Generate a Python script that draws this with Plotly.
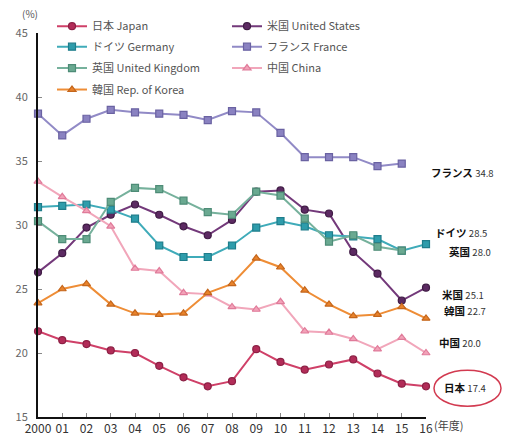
import plotly.graph_objects as go

years = ["2000", "01", "02", "03", "04", "05", "06", "07", "08", "09", "10", "11", "12", "13", "14", "15", "16"]
xs = list(range(len(years)))

japan = [21.7, 21.0, 20.7, 20.2, 20.0, 19.0, 18.1, 17.4, 17.8, 20.3, 19.3, 18.7, 19.1, 19.5, 18.4, 17.6, 17.4]
usa = [26.3, 27.8, 29.8, 30.8, 31.6, 30.8, 29.9, 29.2, 30.4, 32.6, 32.7, 31.2, 30.9, 27.9, 26.2, 24.1, 25.1]
germany = [31.4, 31.5, 31.6, 31.2, 30.5, 28.4, 27.5, 27.5, 28.4, 29.8, 30.3, 29.9, 29.2, 29.1, 28.9, 28.0, 28.5]
france = [38.7, 37.0, 38.3, 39.0, 38.8, 38.7, 38.6, 38.2, 38.9, 38.8, 37.2, 35.3, 35.3, 35.3, 34.6, 34.8]
uk = [30.3, 28.9, 28.9, 31.8, 32.9, 32.8, 31.9, 31.0, 30.8, 32.6, 32.3, 30.5, 28.7, 29.2, 28.3, 28.0]
china = [33.4, 32.2, 31.1, 29.9, 26.6, 26.4, 24.7, 24.6, 23.6, 23.4, 24.0, 21.7, 21.6, 21.1, 20.3, 21.2, 20.0]
korea = [23.9, 25.0, 25.4, 23.8, 23.1, 23.0, 23.1, 24.7, 25.4, 27.4, 26.7, 24.9, 23.8, 22.9, 23.0, 23.6, 22.7]

# name, values, line colour, marker fill, marker outline, symbol, legend row
series = [
    ("日本 Japan", japan, "#cf4068", "#b22c58", "#8c1f44", "circle", "legend"),
    ("米国 United States", usa, "#73397a", "#5c2a62", "#3f1b44", "circle", "legend"),
    ("ドイツ Germany", germany, "#3fabb9", "#2e9cab", "#1f7d8b", "square", "legend2"),
    ("フランス France", france, "#918ac6", "#8a82c1", "#6a62a2", "square", "legend2"),
    ("英国 United Kingdom", uk, "#76b19c", "#6aa991", "#4e8c77", "square", "legend3"),
    ("中国 China", china, "#f1a6ba", "#f2a2b8", "#e07b9a", "triangle-up", "legend3"),
    ("韓国 Rep. of Korea", korea, "#ee8d36", "#e9832b", "#c4661c", "triangle-up", "legend4"),
]

end_labels = [
    ("フランス", "34.8", 429, 175),
    ("ドイツ", "28.5", 433, 237),
    ("英国", "28.0", 447, 256),
    ("米国", "25.1", 440, 300),
    ("韓国", "22.7", 442, 317),
    ("中国", "20.0", 437, 350),
    ("日本", "17.4", 442, 396),
]

W, H = 505, 448
L, R, T, B = 38, 426, 32, 426


def px(x):
    return (x - L) / (R - L)


def py(y):
    return (B - y) / (B - T)


fig = go.Figure()
for name, vals, lc, mc, oc, sym, lg in series:
    fig.add_trace(go.Scatter(
        x=xs[:len(vals)], y=vals, name=name, mode="lines+markers",
        line=dict(color=lc, width=2),
        marker=dict(symbol=sym, size=7, color=mc, line=dict(color=oc, width=1.2)),
        cliponaxis=False, legend=lg,
    ))

annotations = []
for nm, val, x, y in end_labels:
    annotations.append(dict(
        xref="paper", yref="paper", x=px(x), y=py(y), xanchor="left", yanchor="middle",
        text=f"<b>{nm}</b> <span style='font-size:9.5px;color:#333'>{val}</span>",
        showarrow=False, font=dict(family="Noto Sans CJK JP", size=10.5, color="#111"),
    ))
annotations.append(dict(xref="paper", yref="paper", x=px(20), y=py(12), xanchor="left", yanchor="middle",
                        text="(%)", showarrow=False, font=dict(family="Noto Sans CJK JP", size=10, color="#555")))
annotations.append(dict(xref="paper", yref="paper", x=px(432), y=py(434), xanchor="left", yanchor="middle",
                        text="(年度)", showarrow=False, font=dict(family="Noto Sans CJK JP", size=11, color="#444")))


def legend_at(ycenter):
    return dict(
        orientation="h", x=px(52), y=py(ycenter), xanchor="left", yanchor="middle",
        entrywidth=130, entrywidthmode="pixels",
        font=dict(family="Noto Sans CJK JP", size=11, color="#555"),
        bgcolor="rgba(0,0,0,0)", itemwidth=30,
    )


fig.update_layout(
    width=W, height=H,
    margin=dict(l=L, r=W - R, t=T, b=H - B),
    paper_bgcolor="white", plot_bgcolor="white",
    font=dict(family="Noto Sans CJK JP", color="#555"),
    showlegend=True,
    legend=legend_at(25),
    legend2=legend_at(46),
    legend3=legend_at(68),
    legend4=legend_at(90),
    annotations=annotations,
    shapes=[dict(type="circle", xref="paper", yref="paper",
                 x0=px(434), x1=px(501), y0=py(415), y1=py(378),
                 line=dict(color="#d23a50", width=1.5))],
)
fig.update_xaxes(
    range=[0, 16], tickmode="array", tickvals=xs, ticktext=years,
    showline=True, linecolor="#111", linewidth=2, ticks="inside", ticklen=4,
    tickcolor="#888", showgrid=False, zeroline=False,
    tickfont=dict(family="Noto Sans CJK JP", size=12, color="#333"),
)
fig.update_yaxes(
    range=[15, 45], tickvals=[15, 20, 25, 30, 35, 40, 45],
    showline=True, linecolor="#111", linewidth=2, ticks="inside", ticklen=4,
    tickcolor="#888", showgrid=False, zeroline=False, ticklabelstandoff=6,
    tickfont=dict(family="Noto Sans CJK JP", size=11, color="#666"),
)
fig.write_html("out.html")
